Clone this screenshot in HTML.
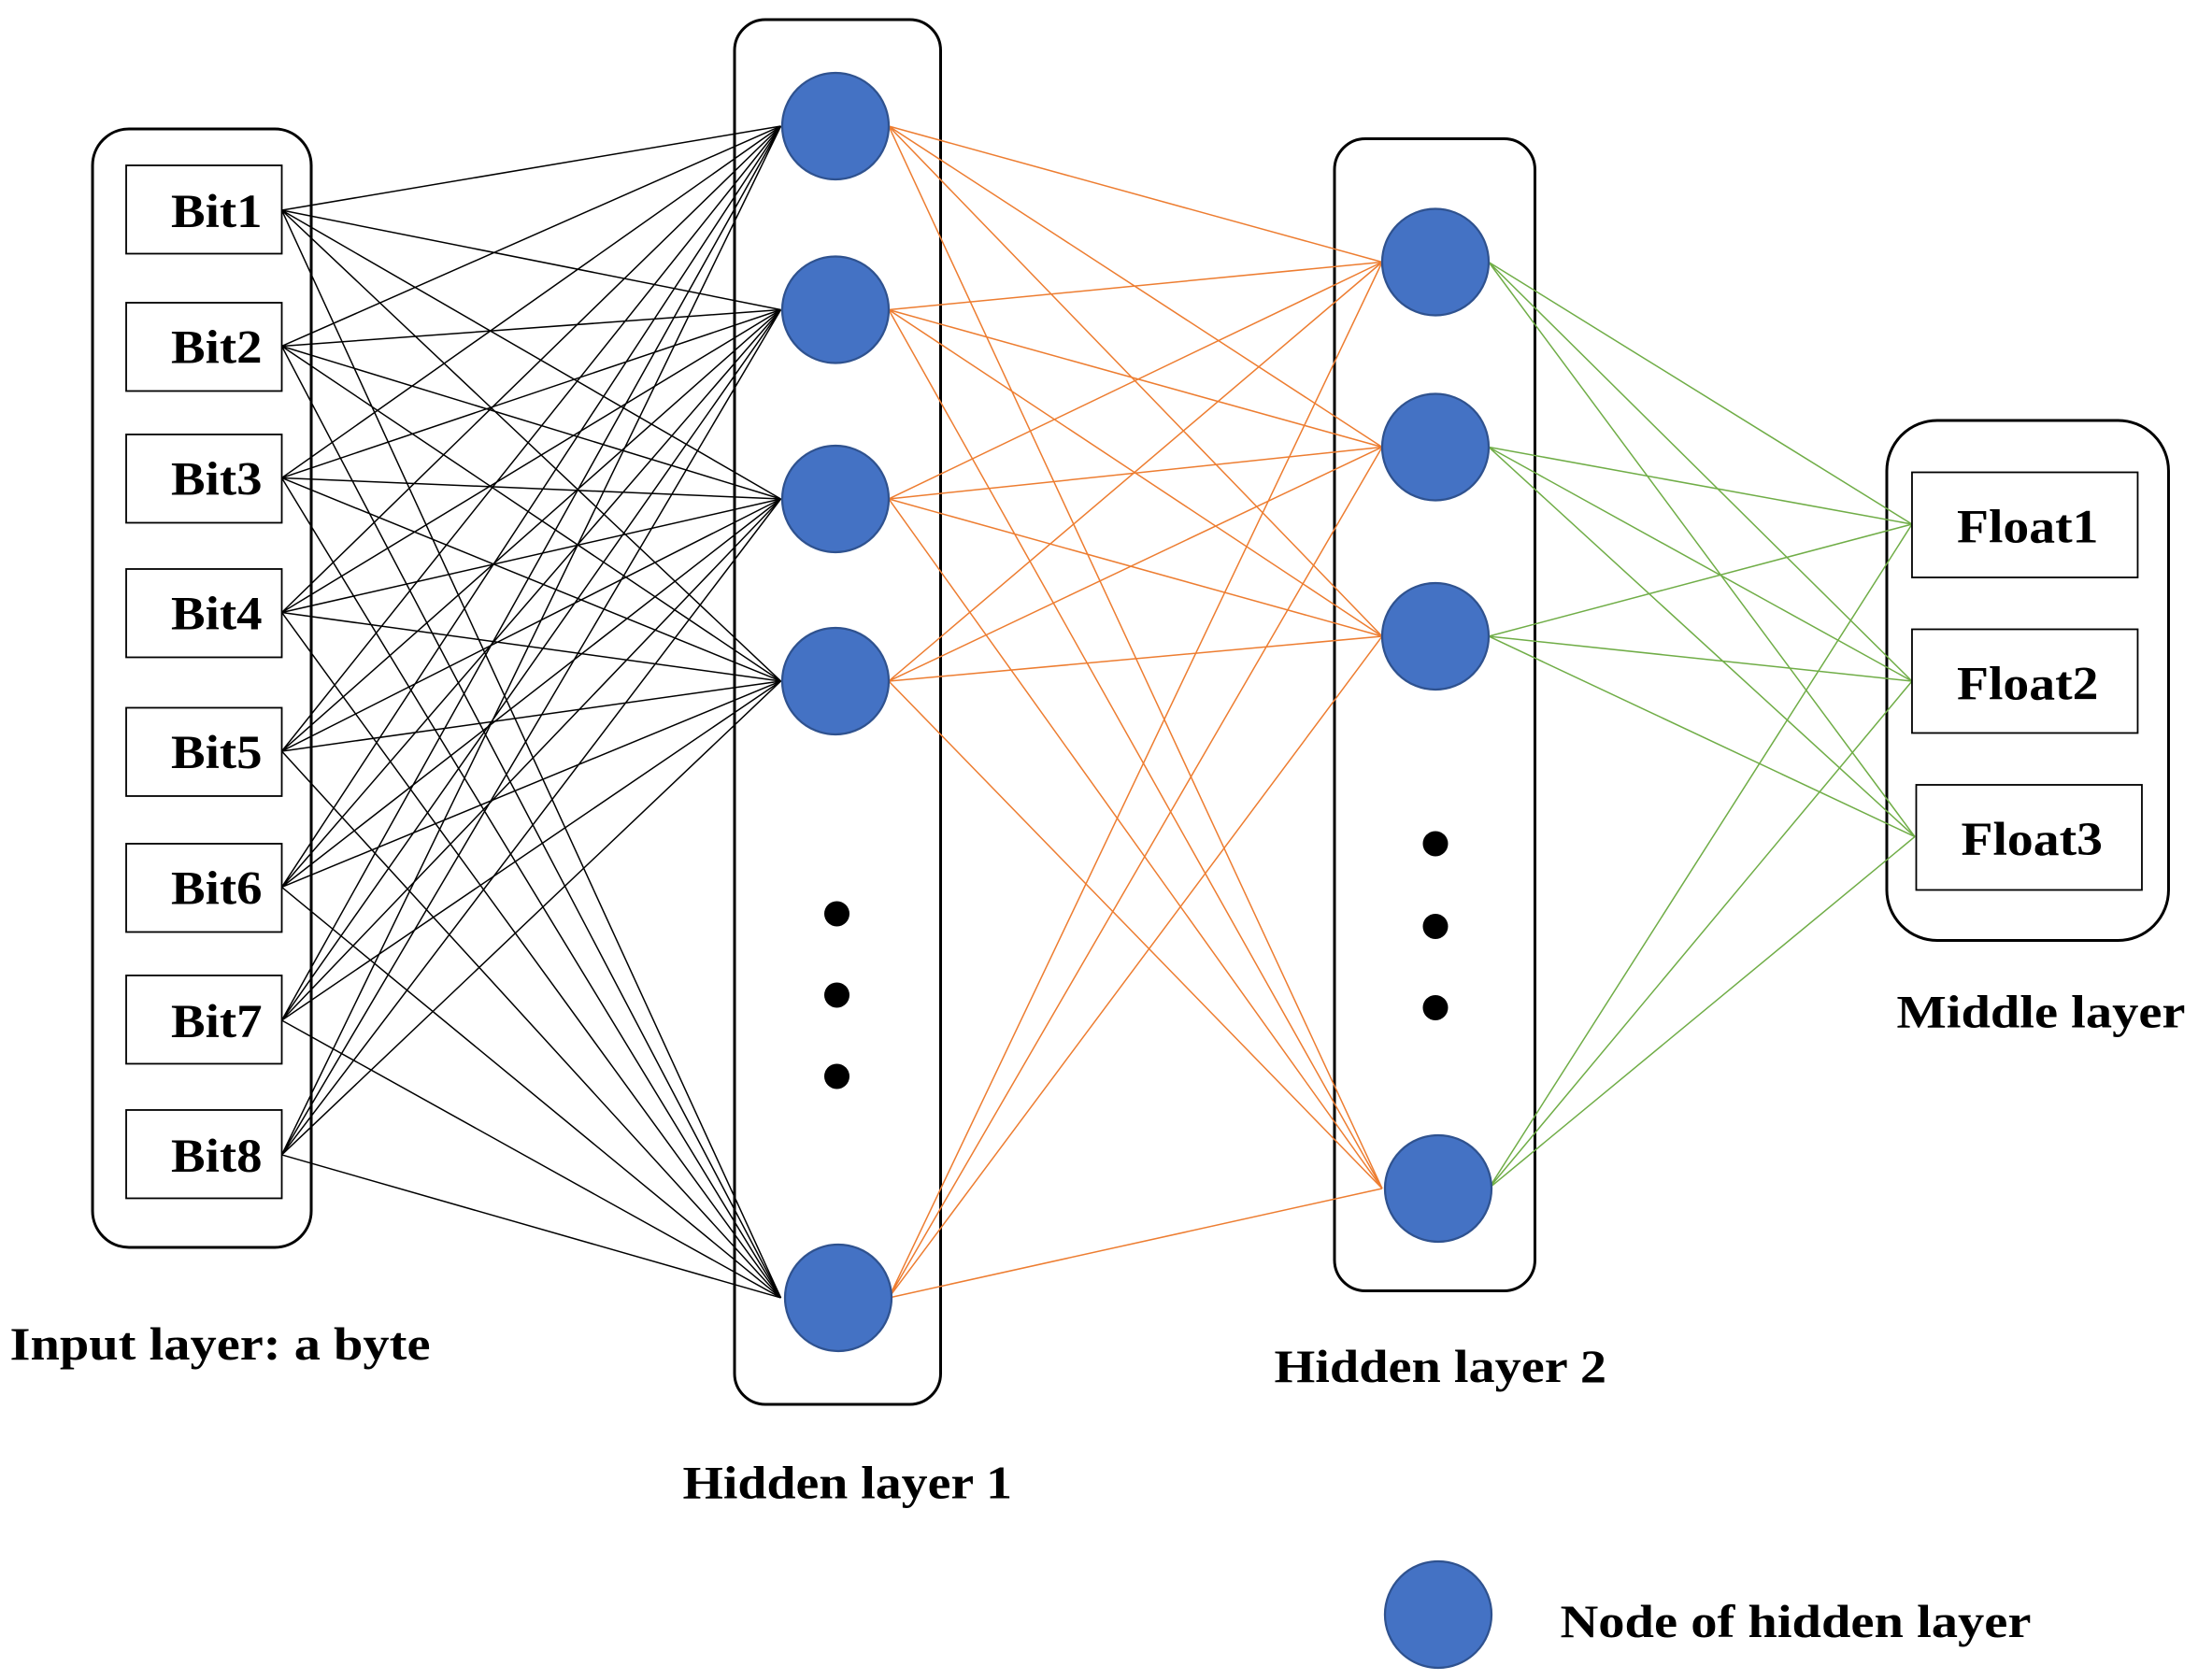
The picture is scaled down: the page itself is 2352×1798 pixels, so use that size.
<!DOCTYPE html>
<html><head><meta charset="utf-8"><style>
html,body{margin:0;padding:0;background:#fff}
svg{display:block}
text{font-family:"Liberation Serif",serif;font-weight:bold;fill:#000}
</style></head><body>
<svg width="2352" height="1798" viewBox="0 0 1568 1198.7" xmlns="http://www.w3.org/2000/svg">
<rect width="1568" height="1199" fill="#fff"/>
<rect x="66" y="92" width="156" height="798" rx="26" fill="none" stroke="#000" stroke-width="2"/>
<rect x="524" y="14" width="147" height="988" rx="22" fill="none" stroke="#000" stroke-width="2"/>
<rect x="952" y="99" width="143" height="822" rx="22" fill="none" stroke="#000" stroke-width="2"/>
<rect x="1346" y="300" width="201" height="371" rx="36" fill="none" stroke="#000" stroke-width="2"/>
<g stroke="#000" stroke-width="1" fill="none">
<path d="M201 150L557 90M201 150L557 221M201 150L557 356M201 150L557 486M201 150L557 926"/>
<path d="M201 247L557 90M201 247L557 221M201 247L557 356M201 247L557 486M201 247L557 926"/>
<path d="M201 341L557 90M201 341L557 221M201 341L557 356M201 341L557 486M201 341L557 926"/>
<path d="M201 437L557 90M201 437L557 221M201 437L557 356M201 437L557 486M201 437L557 926"/>
<path d="M201 536L557 90M201 536L557 221M201 536L557 356M201 536L557 486M201 536L557 926"/>
<path d="M201 633L557 90M201 633L557 221M201 633L557 356M201 633L557 486M201 633L557 926"/>
<path d="M201 728L557 90M201 728L557 221M201 728L557 356M201 728L557 486M201 728L557 926"/>
<path d="M201 824L557 90M201 824L557 221M201 824L557 356M201 824L557 486M201 824L557 926"/>
</g>
<g stroke="#ED7D31" stroke-width="1" fill="none">
<path d="M634 90L986 187M634 90L986 319M634 90L986 454M634 90L986 848"/>
<path d="M634 221L986 187M634 221L986 319M634 221L986 454M634 221L986 848"/>
<path d="M634 356L986 187M634 356L986 319M634 356L986 454M634 356L986 848"/>
<path d="M634 486L986 187M634 486L986 319M634 486L986 454M634 486L986 848"/>
<path d="M634 926L986 187M634 926L986 319M634 926L986 454M634 926L986 848"/>
</g>
<g stroke="#70AD47" stroke-width="1" fill="none">
<path d="M1062 187L1364 374M1062 187L1364 486M1062 187L1366 597"/>
<path d="M1062 319L1364 374M1062 319L1364 486M1062 319L1366 597"/>
<path d="M1062 454L1364 374M1062 454L1364 486M1062 454L1366 597"/>
<path d="M1062 848L1364 374M1062 848L1364 486M1062 848L1366 597"/>
</g>
<g fill="#fff" stroke="#000" stroke-width="1.2">
<rect x="90" y="118" width="111" height="63"/>
<rect x="90" y="216" width="111" height="63"/>
<rect x="90" y="310" width="111" height="63"/>
<rect x="90" y="406" width="111" height="63"/>
<rect x="90" y="505" width="111" height="63"/>
<rect x="90" y="602" width="111" height="63"/>
<rect x="90" y="696" width="111" height="63"/>
<rect x="90" y="792" width="111" height="63"/>
<rect x="1364" y="337" width="161" height="75"/>
<rect x="1364" y="449" width="161" height="74"/>
<rect x="1367" y="560" width="161" height="75"/>
</g>
<g font-size="34" lengthAdjust="spacingAndGlyphs">
<text x="122" y="162" textLength="65" lengthAdjust="spacingAndGlyphs">Bit1</text>
<text x="122" y="259" textLength="65" lengthAdjust="spacingAndGlyphs">Bit2</text>
<text x="122" y="353" textLength="65" lengthAdjust="spacingAndGlyphs">Bit3</text>
<text x="122" y="449" textLength="65" lengthAdjust="spacingAndGlyphs">Bit4</text>
<text x="122" y="548" textLength="65" lengthAdjust="spacingAndGlyphs">Bit5</text>
<text x="122" y="645" textLength="65" lengthAdjust="spacingAndGlyphs">Bit6</text>
<text x="122" y="740" textLength="65" lengthAdjust="spacingAndGlyphs">Bit7</text>
<text x="122" y="836" textLength="65" lengthAdjust="spacingAndGlyphs">Bit8</text>
<text x="1396" y="387" textLength="101" lengthAdjust="spacingAndGlyphs">Float1</text>
<text x="1396" y="499" textLength="101" lengthAdjust="spacingAndGlyphs">Float2</text>
<text x="1399" y="610" textLength="101" lengthAdjust="spacingAndGlyphs">Float3</text>
</g>
<g fill="#4472C4" stroke="#2F528F" stroke-width="1.5">
<circle cx="596" cy="90" r="38"/>
<circle cx="596" cy="221" r="38"/>
<circle cx="596" cy="356" r="38"/>
<circle cx="596" cy="486" r="38"/>
<circle cx="598" cy="926" r="38"/>
<circle cx="1024" cy="187" r="38"/>
<circle cx="1024" cy="319" r="38"/>
<circle cx="1024" cy="454" r="38"/>
<circle cx="1026" cy="848" r="38"/>
<circle cx="1026" cy="1152" r="38"/>
</g>
<g fill="#000">
<circle cx="597" cy="652" r="9"/><circle cx="597" cy="710" r="9"/><circle cx="597" cy="768" r="9"/>
<circle cx="1024" cy="602" r="9"/><circle cx="1024" cy="661" r="9"/><circle cx="1024" cy="719" r="9"/>
</g>
<g font-size="33">
<text x="7" y="970" textLength="300" lengthAdjust="spacingAndGlyphs">Input layer: a byte</text>
<text x="487" y="1069" textLength="235" lengthAdjust="spacingAndGlyphs">Hidden layer 1</text>
<text x="909" y="986" textLength="237" lengthAdjust="spacingAndGlyphs">Hidden layer 2</text>
<text x="1353" y="733" textLength="206" lengthAdjust="spacingAndGlyphs">Middle layer</text>
<text x="1113" y="1168" textLength="336" lengthAdjust="spacingAndGlyphs">Node of hidden layer</text>
</g>
</svg>
</body></html>
